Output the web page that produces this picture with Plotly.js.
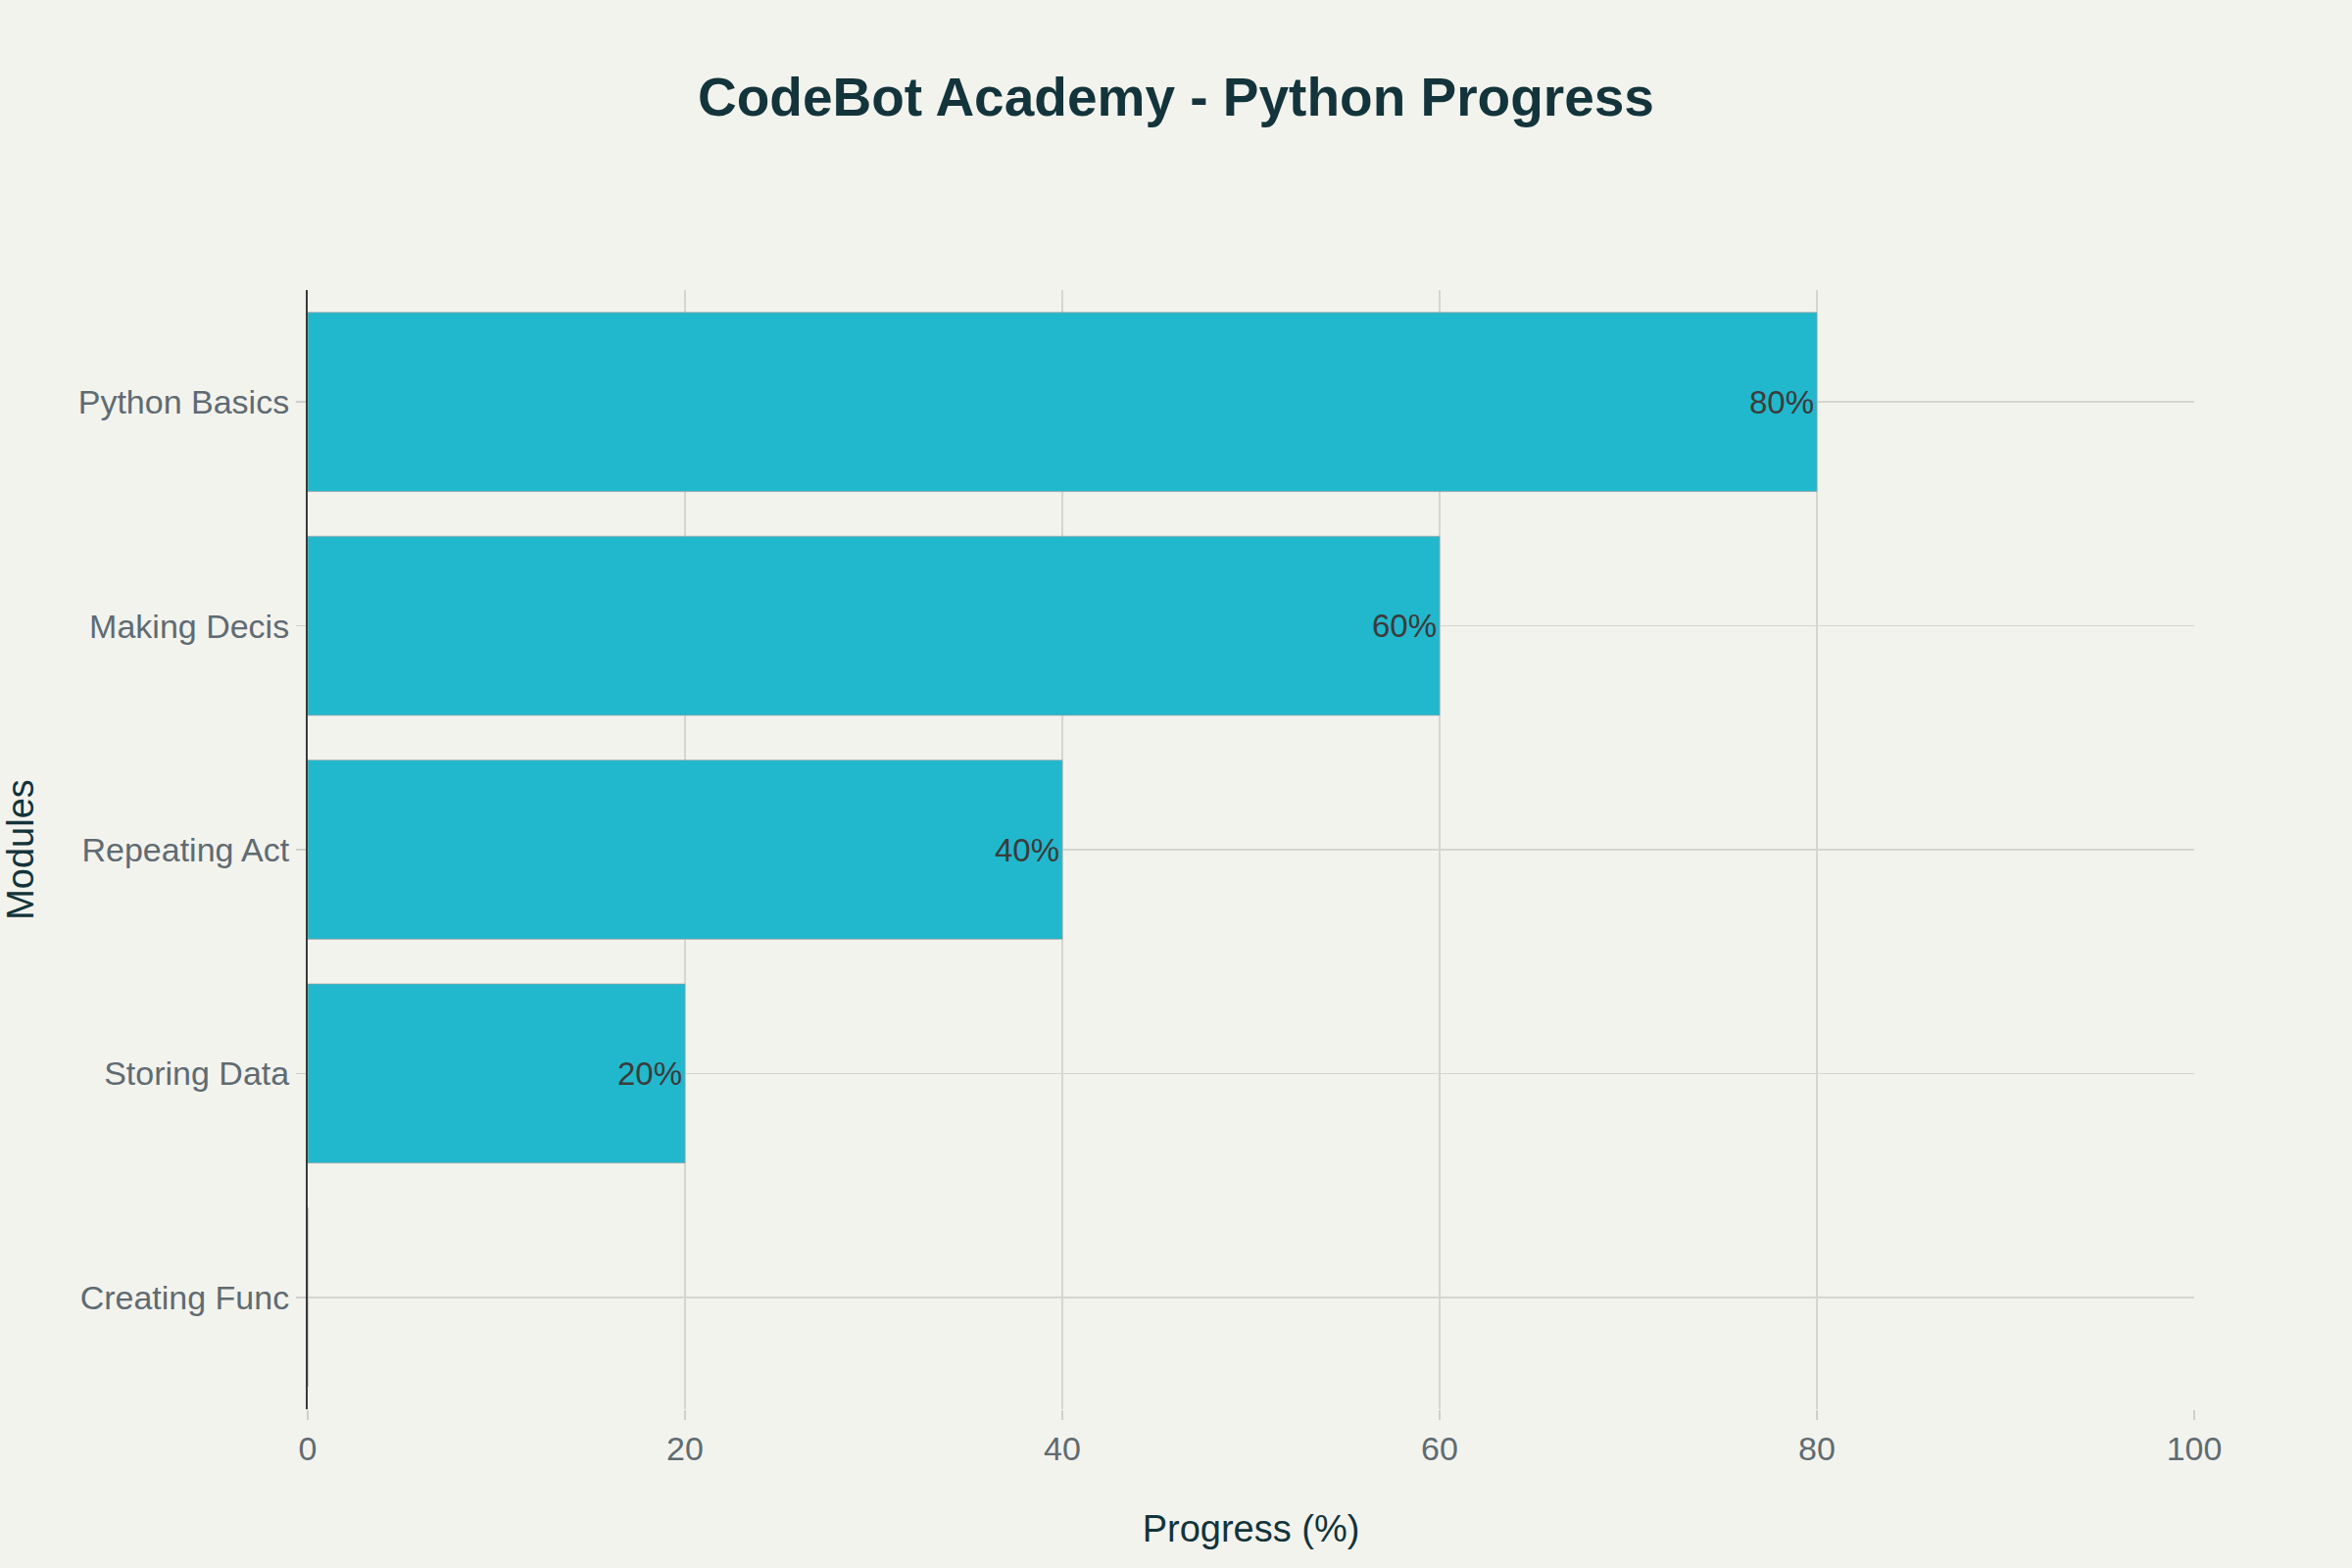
<!DOCTYPE html>
<html>
<head>
<meta charset="utf-8">
<script src="https://cdn.plot.ly/plotly-3.0.1.min.js"></script>
<style>
  html, body { margin: 0; padding: 0; background: #f3f3ee; }
  #chart { width: 2400px; height: 1600px; }
</style>
</head>
<body>
<div id="chart"></div>
<script>
const modules = ["Python Basics", "Making Decis", "Repeating Act", "Storing Data", "Creating Func"];
const progress = [80, 60, 40, 20, 0];
const xTicks = [0, 20, 40, 60, 80, 100];

const labels = progress.map(v => v > 0 ? v + "%" : "");

const trace = {
  type: "bar",
  orientation: "h",
  y: modules,
  x: progress,
  text: labels,
  textposition: "inside",
  insidetextanchor: "end",
  textangle: 0,
  insidetextfont: { family: "Liberation Sans, Arial, sans-serif", size: 33, color: "#3b3b3b" },
  marker: { color: "#21b8cd", line: { color: "rgba(160,160,160,0.7)", width: 1 } },
  hoverinfo: "none",
  showlegend: false
};

const layout = {
  width: 2400,
  height: 1600,
  paper_bgcolor: "#f3f3ee",
  plot_bgcolor: "#f3f3ee",
  margin: { l: 314, r: 161, t: 296, b: 162, autoexpand: false },
  bargap: 0.2,
  title: {
    text: "<b>CodeBot Academy - Python Progress</b>",
    font: { family: "Liberation Sans, Arial, sans-serif", size: 55, color: "#13343b" },
    x: 0.5, xanchor: "center",
    yref: "container", y: 0.9385, yanchor: "middle"
  },
  xaxis: {
    range: [0, 100],
    tickvals: xTicks,
    ticktext: xTicks.map(String),
    showgrid: true,
    gridcolor: "#d6d6d1",
    gridwidth: 1.5,
    zeroline: false,
    showline: false,
    ticks: "outside",
    ticklen: 10,
    tickcolor: "#cfcfcf",
    tickwidth: 1.5,
    tickfont: { family: "Liberation Sans, Arial, sans-serif", size: 34, color: "#5f6b72" },
    title: {
      text: "Progress (%)",
      font: { family: "Liberation Sans, Arial, sans-serif", size: 38, color: "#13343b" },
      standoff: 50
    },
    automargin: false,
    fixedrange: true
  },
  yaxis: {
    categoryorder: "array",
    categoryarray: modules.slice().reverse(),
    showgrid: true,
    gridcolor: "#d6d6d1",
    gridwidth: 1.5,
    zeroline: false,
    showline: true,
    linecolor: "#3a3a3a",
    linewidth: 2,
    ticks: "outside",
    ticklen: 10,
    tickcolor: "#cfcfcf",
    tickwidth: 1.5,
    tickfont: { family: "Liberation Sans, Arial, sans-serif", size: 34, color: "#5f6b72" },
    title: {
      text: "Modules",
      font: { family: "Liberation Sans, Arial, sans-serif", size: 38, color: "#13343b" },
      standoff: 36
    },
    automargin: false,
    fixedrange: true
  }
};

Plotly.newPlot("chart", [trace], layout, { displayModeBar: false, staticPlot: true });
</script>
</body>
</html>
